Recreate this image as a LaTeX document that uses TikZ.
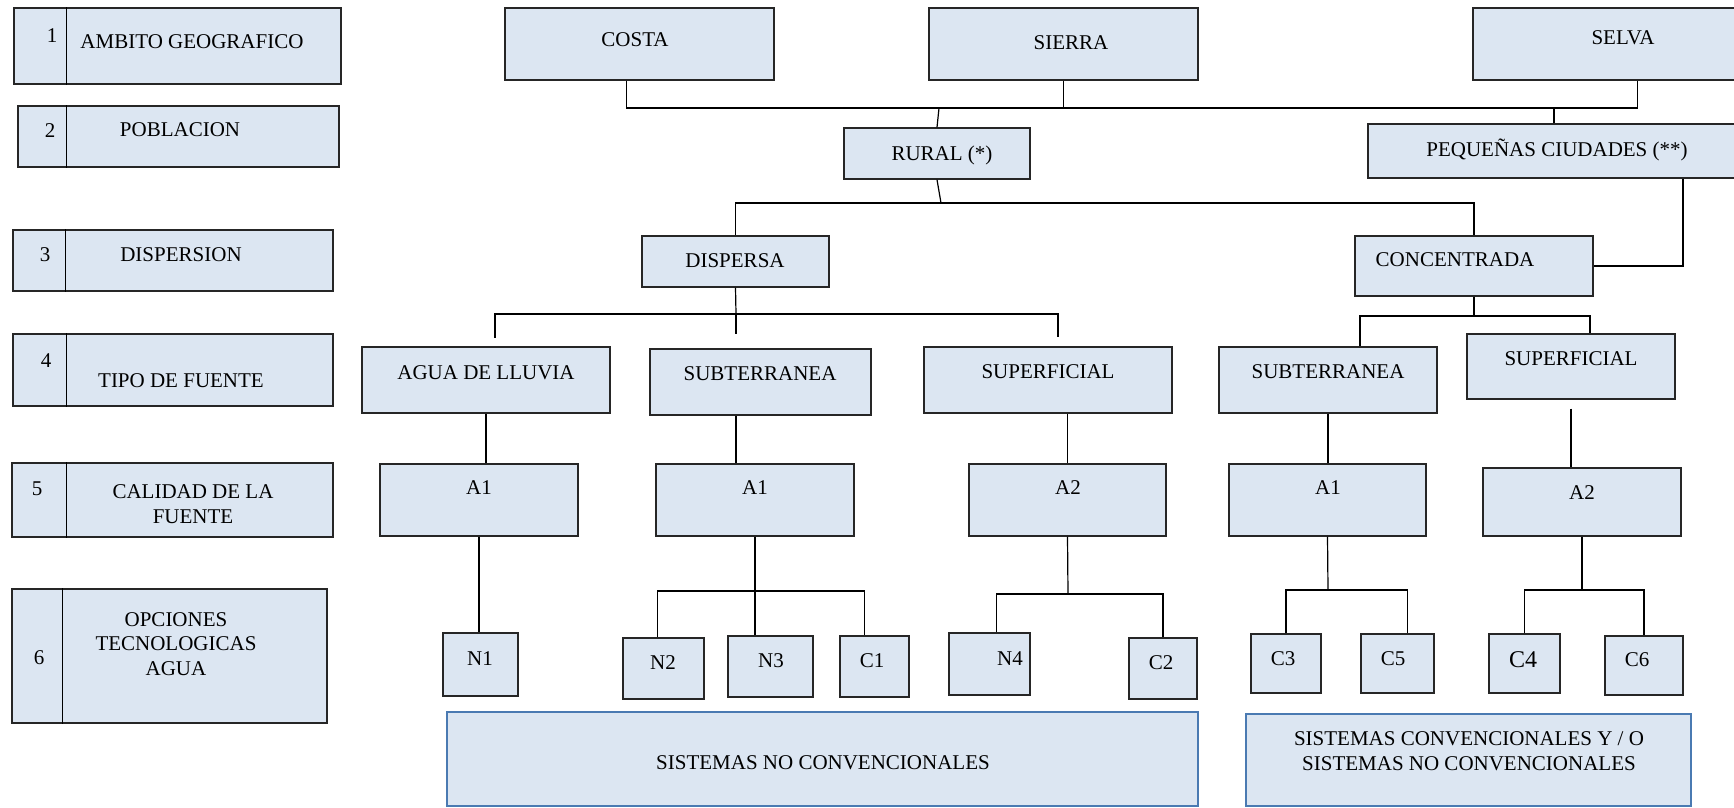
\documentclass[tikz,border=0pt]{standalone}
\usepackage{fontspec}
\setmainfont{Liberation Serif}
\usetikzlibrary{fit}
\definecolor{fondo}{HTML}{DCE6F2}
\definecolor{borde}{HTML}{262626}
\definecolor{azul}{HTML}{4A7AB2}
\tikzset{
  caja/.style={draw=borde, fill=fondo, line width=1.3pt, inner sep=0pt},
  sistema/.style={caja, draw=azul, line width=2.8pt},
  texto/.style={anchor=base, inner sep=0pt, align=center},
  linea/.style={draw=black, line width=1.2pt}
}
% box between two corners, its text set apart near the top
\newcommand{\caja}[6][]{%
  \node[caja, fit={#3 #4}] (#2) {};
  \node[texto, #1] (#2-t) at #5 {#6};}

\begin{document}
\begin{tikzpicture}[x=1pt, y=-1pt, font=\fontsize{21}{24.5}\selectfont]
\useasboundingbox (0,0) rectangle (1734,807);
\clip (0,0) rectangle (1734,807);

% levels on the left
\caja{l1}{(14,8)}{(341,84)}{(192,48)}{AMBITO GEOGRAFICO}
\caja{l2}{(18,106)}{(339,167)}{(180,136)}{POBLACION}
\caja{l3}{(13,230)}{(333,291)}{(181,261)}{DISPERSION}
\caja{l4}{(13,334)}{(333,406)}{(181,387)}{TIPO DE FUENTE}
\caja[anchor=center]{l5}{(12,463)}{(333,537)}{(193,504)}{CALIDAD DE LA\\FUENTE}
\caja[anchor=center]{l6}{(12,589)}{(327,723)}{(176,644)}{OPCIONES\\TECNOLOGICAS\\AGUA}
\node[texto] (l1-n) at (52,42) {1};
\node[texto] (l2-n) at (50,137) {2};
\node[texto] (l3-n) at (45,261) {3};
\node[texto] (l4-n) at (46,367) {4};
\node[texto] (l5-n) at (37,495) {5};
\node[texto] (l6-n) at (39,664) {6};
\draw[linea] ([xshift=53pt]l1.north west) -- ([xshift=53pt]l1.south west);
\draw[linea] ([xshift=49pt]l2.north west) -- ([xshift=49pt]l2.south west);
\draw[linea] ([xshift=53pt]l3.north west) -- ([xshift=53pt]l3.south west);
\draw[linea] ([xshift=54pt]l4.north west) -- ([xshift=54pt]l4.south west);
\draw[linea] ([xshift=55pt]l5.north west) -- ([xshift=55pt]l5.south west);
\draw[linea] ([xshift=51pt]l6.north west) -- ([xshift=51pt]l6.south west);

% ambito y poblacion
\caja{costa}{(505,8)}{(774,80)}{(635,46)}{COSTA}
\caja{sierra}{(929,8)}{(1198,80)}{(1071,49)}{SIERRA}
\caja{selva}{(1473,8)}{(1740,80)}{(1623,44)}{SELVA}
\caja{rural}{(844,128)}{(1030,179)}{(942,160)}{RURAL (*)}
\caja{peq}{(1368,124)}{(1740,178)}{(1557,156)}{PEQUEÑAS CIUDADES (**)}

% dispersion
\caja{dispersa}{(642,236)}{(829,287)}{(735,267)}{DISPERSA}
\caja{concentrada}{(1355,236)}{(1593,296)}{(1455,266)}{CONCENTRADA}

% tipo de fuente
\caja{agua}{(362,347)}{(610,413)}{(486,379)}{AGUA DE LLUVIA}
\caja{subt1}{(650,349)}{(871,415)}{(760,380)}{SUBTERRANEA}
\caja{sup1}{(924,347)}{(1172,413)}{(1048,378)}{SUPERFICIAL}
\caja{subt2}{(1219,347)}{(1437,413)}{(1328,378)}{SUBTERRANEA}
\caja{sup2}{(1467,334)}{(1675,399)}{(1571,365)}{SUPERFICIAL}

% calidad
\caja{a1a}{(380,464)}{(578,536)}{(479,494)}{A1}
\caja{a1b}{(656,464)}{(854,536)}{(755,494)}{A1}
\caja{a2a}{(969,464)}{(1166,536)}{(1068,494)}{A2}
\caja{a1c}{(1229,464)}{(1426,536)}{(1328,494)}{A1}
\caja{a2b}{(1483,468)}{(1681,536)}{(1582,499)}{A2}

% opciones tecnologicas
\caja{n1}{(443,633)}{(518,696)}{(480,665)}{N1}
\caja{n2}{(623,638)}{(704,699)}{(663,669)}{N2}
\caja{n3}{(728,636)}{(813,697)}{(771,667)}{N3}
\caja{c1}{(840,636)}{(909,697)}{(872,667)}{C1}
\caja{n4}{(949,633)}{(1030,695)}{(1010,665)}{N4}
\caja{c2}{(1129,638)}{(1197,699)}{(1161,669)}{C2}
\caja{c3}{(1251,634)}{(1321,693)}{(1283,665)}{C3}
\caja{c5}{(1361,634)}{(1434,693)}{(1393,665)}{C5}
\caja[font=\fontsize{24}{26}\selectfont]{c4}{(1489,634)}{(1560,693)}{(1523,667)}{C4}
\caja{c6}{(1605,636)}{(1683,695)}{(1637,666)}{C6}

% sistemas
\node[sistema, fit={(447,712) (1198,806)}] (noconv) {};
\node[texto] (noconv-t) at (823,769) {SISTEMAS NO CONVENCIONALES};
\node[sistema, fit={(1246,714) (1691,806)}] (conv) {};
\node[texto, anchor=center] (conv-t) at (1469,751) {SISTEMAS CONVENCIONALES Y / O\\SISTEMAS NO CONVENCIONALES};

% connectors
\coordinate (j1) at (939,108);
\draw[linea] ([xshift=-13pt]costa.south) |- (j1) -| ([xshift=31pt]selva.south);
\draw[linea] (sierra.south) -- (sierra.south |- j1);
\draw[linea] (j1) -- (rural.north);
\draw[linea] (peq.north) -- (peq.north |- j1);

\coordinate (j2) at (941,203);
\draw[linea] (rural.south) -- (j2);
\draw[linea] (dispersa.north) |- (j2) -| (concentrada.north);
\draw[linea] ([xshift=129pt]peq.south) |- (concentrada.east);

\coordinate (j3) at (736,314);
\draw[linea] (dispersa.south) -- (j3);
\draw[linea, shorten >=8pt] (j3) -| ([xshift=9pt]agua.north);
\draw[linea, shorten >=9pt] (j3) -| ([xshift=10pt]sup1.north);
\draw[linea, shorten >=14pt] (j3) -- (j3 |- subt1.north);

\coordinate (j4) at (1474,316);
\draw[linea] (concentrada.south) -- (j4);
\draw[linea] ([xshift=32pt]subt2.north) |- (j4) -| ([xshift=19pt]sup2.north);

\draw[linea] (agua.south) -- (agua.south |- a1a.north);
\draw[linea] (subt1.south -| j3) -- (a1b.north -| j3);
\draw[linea] (a2a.north |- sup1.south) -- (a2a.north);
\draw[linea] (subt2.south) -- (subt2.south |- a1c.north);
\draw[linea, shorten <=9pt] (sup2.south) -- (sup2.south |- a2b.north);

\draw[linea] (a1a.south) -- (a1a.south |- n1.north);

\coordinate (j5) at (755,591);
\draw[linea] (a1b.south) -- (a1b.south |- n3.north);
\draw[linea] ([xshift=-6pt]n2.north) |- (j5) -| ([xshift=-10pt]c1.north);

\coordinate (j6) at (1068,594);
\draw[linea] (a2a.south) -- (j6);
\draw[linea] ([xshift=7pt]n4.north) |- (j6) -| (c2.north);

\coordinate (j7) at (1328,590);
\draw[linea] (a1c.south) -- (j7);
\draw[linea] (c3.north) |- (j7) -| ([xshift=10pt]c5.north);

\coordinate (j8) at (1582,590);
\draw[linea] (a2b.south) -- (j8);
\draw[linea] (c4.north) |- (j8) -| (c6.north);
\end{tikzpicture}
\end{document}
